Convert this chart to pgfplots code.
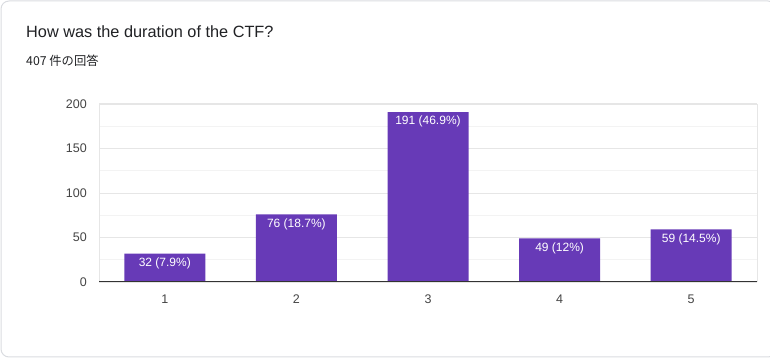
\documentclass[border=0pt]{standalone}
\usepackage{pgfplots}
\pgfplotsset{compat=1.18}
\usepackage{fontspec}
\setmainfont{Liberation Sans}
\newfontfamily\cjk{Noto Sans CJK JP}
\definecolor{barc}{HTML}{673AB7}
\definecolor{gridc}{HTML}{E6E6E6}
\definecolor{gridm}{HTML}{F3F3F3}
\definecolor{titlec}{HTML}{202124}
\definecolor{tickc}{HTML}{444444}
\definecolor{cardb}{HTML}{DADCE0}
\definecolor{axisc}{HTML}{333333}
\begin{document}
\begin{tikzpicture}[x=1pt,y=1pt]
\path[use as bounding box] (0,0) rectangle (770,358);
\begin{scope}
\clip (0,0) rectangle (770,358);
\draw[draw=cardb, line width=1pt, rounded corners=8pt] (1,1) rectangle (776,357);
\end{scope}
\node[anchor=base west, inner sep=0pt, font=\fontsize{16.3}{19}\selectfont, text=titlec] at (26,320) {How was the duration of the CTF?};
\node[anchor=base west, inner sep=0pt, font=\cjk\fontsize{12.3}{14}\selectfont, text=titlec] at (26,292) {407 件の回答};
\begin{axis}[
  at={(99pt,76pt)}, anchor=south west, scale only axis,
  width=658pt, height=178pt,
  xmin=0.5, xmax=5.5, ymin=0, ymax=200,
  ybar, bar width=81pt,
  ytick={0,50,100,150,200}, minor ytick={25,75,125,175},
  xtick={1,2,3,4,5},
  ymajorgrids, yminorgrids,
  major grid style={draw=gridc, line width=0.8pt},
  minor grid style={draw=gridm, line width=0.8pt},
  tick style={draw=none},
  axis line style={draw=none},
  /pgf/number format/assume math mode=true,
  ticklabel style={font=\fontsize{12.5}{15}\selectfont, text=tickc},
  yticklabel style={anchor=east, inner sep=0pt, xshift=-12pt},
  xticklabel style={anchor=north, inner sep=0pt, yshift=-8pt},
  clip=false,
]
\addplot[fill=barc, draw=none,
  nodes near coords, point meta=explicit symbolic,
  nodes near coords style={anchor=north, text=white, inner sep=0pt, yshift=-4pt, font=\fontsize{12}{14}\selectfont}]
  coordinates {(1,32) [32 (7.9\%)] (2,76) [76 (18.7\%)] (3,191) [191 (46.9\%)] (4,49) [49 (12\%)] (5,59) [59 (14.5\%)]};
\draw[gridc, line width=0.8pt] (axis cs:0.5,0) -- (axis cs:0.5,200);
\draw[gridc, line width=0.8pt] (axis cs:5.5,0) -- (axis cs:5.5,200);
\draw[gridc, line width=1.2pt] (axis cs:0.5,200) -- (axis cs:5.5,200);
\draw[axisc, line width=1pt] (axis cs:0.5,0) -- (axis cs:5.5,0);
\end{axis}
\end{tikzpicture}
\end{document}
